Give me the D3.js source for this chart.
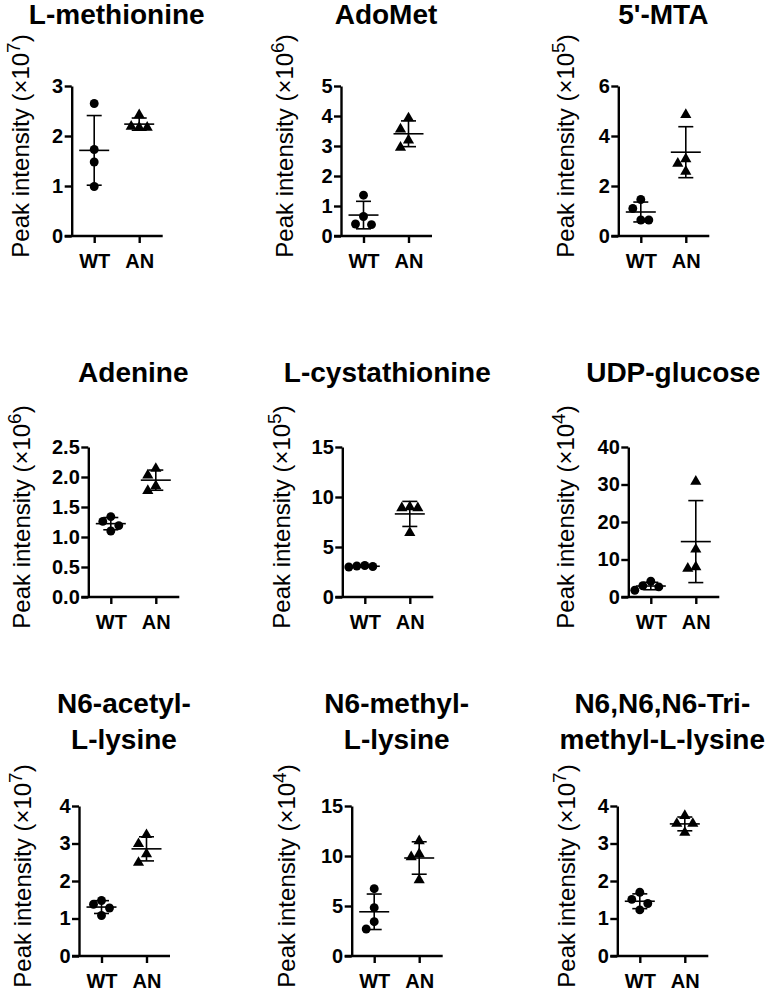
<!doctype html>
<html lang="en">
<head>
<meta charset="utf-8">
<title>peak intensity dot plots</title>
<script src="https://cdn.jsdelivr.net/npm/d3@7"></script>
<style>
  body { margin: 0; background: #fff; }
  svg text { font-family: 'Liberation Sans', Arial, sans-serif; fill: #000; }
</style>
</head>
<body>
<div id="root"></div>
<script>
  // data (values in units of 10^exponent)
  const titles = [["L-methionine"], ["AdoMet"], ["5'-MTA"],
                  ["Adenine"], ["L-cystathionine"], ["UDP-glucose"],
                  ["N6-acetyl-", "L-lysine"], ["N6-methyl-", "L-lysine"], ["N6,N6,N6-Tri-", "methyl-L-lysine"]];
  const groups = ["WT", "AN"];
  const exponents = [7, 6, 5, 6, 5, 4, 7, 4, 7];
  const yTicks = [[0, 1, 2, 3], [0, 1, 2, 3, 4, 5], [0, 2, 4, 6],
                  [0, 0.5, 1, 1.5, 2, 2.5], [0, 5, 10, 15], [0, 10, 20, 30, 40],
                  [0, 1, 2, 3, 4], [0, 5, 10, 15], [0, 1, 2, 3, 4]];
  const tickDecimals = [0, 0, 0, 1, 0, 0, 0, 0, 0];
  const wtValues = [[2.65, 1.73, 1.48, 0.99], [1.36, 0.65, 0.38, 0.40], [1.46, 1.10, 0.64, 0.64],
                    [1.34, 1.26, 1.19, 1.10], [3.05, 3.0, 3.15, 3.1], [2.7, 1.8, 3.0, 4.2],
                    [1.38, 1.48, 1.28, 1.08], [6.73, 4.83, 3.43, 2.7], [1.70, 1.51, 1.40, 1.23]];
  const anValues = [[2.42, 2.17, 2.17, 2.19], [3.93, 3.56, 3.19, 2.95], [4.85, 3.08, 2.9, 2.58],
                    [2.14, 2.03, 1.85, 1.77], [8.9, 8.9, 9.0, 6.43], [30.8, 12.7, 7.6, 8.0],
                    [3.23, 2.99, 2.72, 2.49], [11.5, 10.2, 9.9, 7.6], [3.74, 3.53, 3.53, 3.29]];

  // layout
  const width = 769, height = 994;
  const axisX = [71.7, 341, 618.3, 88.3, 342.3, 628.3, 79, 351.7, 617.3];
  const labelX = [28.5, 293, 573.5, 30, 290, 573.5, 30.5, 295, 574.5];
  const rowTop = [86, 447, 806];
  const rowTitleBase = [24, 382, 749];
  const rowLabelShift = [-15, -5, -5];
  const axisH = 150, axisW = 90;
  const tickLen = 7;

  const svg = d3.select("#root")
    .append("svg")
    .attr("width", width)
    .attr("height", height);

  // spread points sideways when they would overlap
  function spread(values, y) {
    const step = 8, near = 12;
    const order = values.map((v, i) => i).sort((a, b) => values[b] - values[a]);
    const placed = [];
    const slots = new Array(values.length);
    order.forEach(i => {
      for (const s of [0, -1, 1, -2, 2]) {
        const hit = placed.some(p => p.slot === s && Math.abs(y(values[p.i]) - y(values[i])) < near);
        if (!hit) { slots[i] = s; placed.push({i: i, slot: s}); break; }
      }
    });
    return slots.map(s => s * step);
  }

  titles.forEach((title, k) => {
    const r = Math.floor(k / 3);
    const top = rowTop[r], bottom = top + axisH;
    const g = svg.append("g").attr("transform", `translate(${axisX[k]},0)`);

    const y = d3.scaleLinear().domain([0, d3.max(yTicks[k])]).range([bottom, top]);
    const x = d3.scalePoint().domain(groups).range([0, axisW]).padding(0.5);

    // title
    title.forEach((line, j) => {
      g.append("text")
        .attr("x", axisW / 2)
        .attr("y", rowTitleBase[r] - (title.length - 1 - j) * 36)
        .attr("text-anchor", "middle")
        .attr("font-size", "28px")
        .attr("font-weight", "bold")
        .text(line);
    });

    // y axis
    const yAxis = g.append("g")
      .call(d3.axisLeft(y)
        .tickValues(yTicks[k])
        .tickFormat(d3.format(`.${tickDecimals[k]}f`))
        .tickSize(tickLen)
        .tickSizeOuter(0)
        .tickPadding(1.5));
    // x axis
    const xAxis = g.append("g")
      .attr("transform", `translate(0,${bottom})`)
      .call(d3.axisBottom(x).tickSize(tickLen).tickSizeOuter(0).tickPadding(10.5));

    [yAxis, xAxis].forEach(a => {
      a.selectAll("path, line").attr("stroke", "#000").attr("stroke-width", 2.4);
      a.selectAll("text")
        .attr("font-size", "20px")
        .attr("font-weight", "bold")
        .attr("fill", "#000");
    });
    xAxis.select(".domain").attr("d", `M${-tickLen},0H${axisW + 1}`);

    // y axis label
    const lbl = svg.append("text")
      .attr("transform", `translate(${labelX[k]},${(top + bottom) / 2 + rowLabelShift[r]}) rotate(-90)`)
      .attr("text-anchor", "middle")
      .attr("font-size", "24px");
    lbl.append("tspan").text("Peak intensity (\u00d710");
    lbl.append("tspan").attr("font-size", "19px").attr("dy", -9).text(exponents[k]);
    lbl.append("tspan").attr("dy", 9).text(")");

    // points and mean +/- SD
    [wtValues[k], anValues[k]].forEach((vals, gi) => {
      const cx = x(groups[gi]);
      const offs = spread(vals, y);
      const sym = d3.symbol().type(gi === 0 ? d3.symbolCircle : d3.symbolTriangle).size(gi === 0 ? 62 : 54);
      g.selectAll(null)
        .data(vals)
        .enter()
        .append("path")
        .attr("d", sym)
        .attr("transform", (d, i) => `translate(${cx + offs[i]},${y(d)})`)
        .attr("fill", "#000");

      const m = d3.mean(vals), sd = d3.deviation(vals);
      const eb = g.append("g").attr("stroke", "#000").attr("stroke-width", 1.6);
      eb.append("line").attr("x1", cx).attr("x2", cx).attr("y1", y(m + sd)).attr("y2", y(m - sd));
      eb.append("line").attr("x1", cx - 15).attr("x2", cx + 15).attr("y1", y(m)).attr("y2", y(m));
      [m + sd, m - sd].forEach(v => {
        eb.append("line").attr("x1", cx - 7.5).attr("x2", cx + 7.5).attr("y1", y(v)).attr("y2", y(v));
      });
    });
  });
</script>
</body>
</html>
